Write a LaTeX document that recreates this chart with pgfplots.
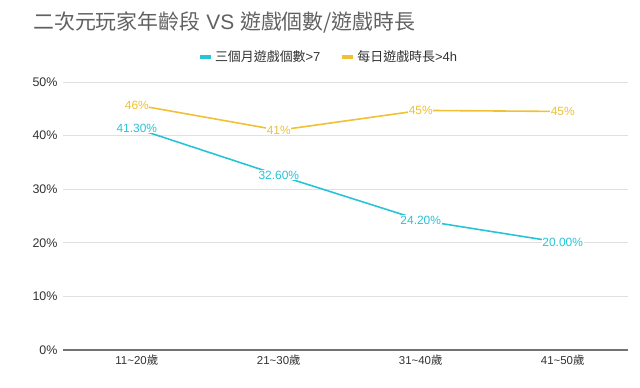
\documentclass[border=0pt]{standalone}
\usepackage{fontspec}
\setmainfont{Liberation Sans}
\newfontfamily\cjk{Noto Sans CJK TC}
\usepackage{pgfplots}
\pgfplotsset{compat=1.18}
\usepackage{pgfplotstable}
\definecolor{cy}{RGB}{40,196,214}
\definecolor{yl}{RGB}{240,193,52}
\definecolor{tg}{RGB}{50,50,50}
\pgfplotstableread{
x y lab
0 41.3 41.30\%
1 32.6 32.60\%
2 24.2 24.20\%
3 20.0 20.00\%
}\cyandata
\pgfplotstableread{
x y lab
0 45.7 46\%
1 41.0 41\%
2 44.7 45\%
3 44.5 45\%
}\yellowdata
\begin{document}
\begin{tikzpicture}[x=1bp,y=1bp]
\path[use as bounding box] (0,0) rectangle (640,387);
\node[anchor=west, inner sep=0pt, font=\fontsize{21}{24}\selectfont, text=black!62] at (33,364) {{\cjk 二次元玩家年齡段} VS {\cjk 遊戲個數/遊戲時長}};
\begin{axis}[
  at={(63bp,37bp)}, anchor=south west,
  scale only axis, width=565bp, height=268bp,
  xmin=-0.52, xmax=3.46, ymin=0, ymax=50,
  xtick=data, xticklabels={11\textasciitilde20{\cjk 歲},21\textasciitilde30{\cjk 歲},31\textasciitilde40{\cjk 歲},41\textasciitilde50{\cjk 歲}},
  ytick={0,10,20,30,40,50},
  yticklabel={\pgfmathprintnumber{\tick}\%},
  /pgf/number format/assume math mode=true,
  ymajorgrids, grid style={black!12, line width=0.8pt},
  axis line style={draw=none},
  major tick length=0pt,
  tick label style={text=tg},
  yticklabel style={font=\fontsize{12.5}{14}\selectfont, xshift=-2bp},
  xticklabel style={font=\fontsize{11.5}{13}\selectfont, yshift=-1bp},
  clip=false,
  legend columns=2,
  legend style={at={(0.47,1.093)}, anchor=center, draw=none, fill=none,
    font=\fontsize{13}{15}\selectfont, text=tg,
    /tikz/every even column/.append style={column sep=18bp}},
  legend image code/.code={\draw[line width=4pt,#1] (0bp,0bp) -- (11bp,0bp);},
  nodes near coords={\pgfplotspointmeta},
  point meta=explicit symbolic,
  every node near coord/.append style={anchor=center, fill=white, inner sep=0.6pt, font=\fontsize{12}{14}\selectfont},
]
\draw[black!55, line width=1.2pt] (axis cs:-0.52,0) -- (axis cs:3.46,0);
\addplot[cy, line width=1.6pt, mark=none, every node near coord/.append style={text=cy}] table[x=x,y=y,meta=lab] {\cyandata};
\addlegendentry{{\cjk 三個月遊戲個數}>7}
\addplot[yl, line width=1.6pt, mark=none, every node near coord/.append style={text=yl}] table[x=x,y=y,meta=lab] {\yellowdata};
\addlegendentry{{\cjk 每日遊戲時長}>4h}
\end{axis}
\end{tikzpicture}
\end{document}
